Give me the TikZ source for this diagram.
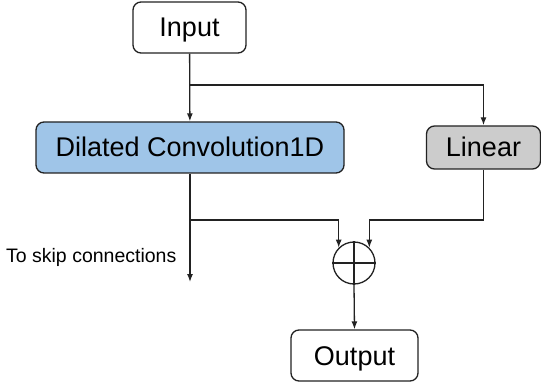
\documentclass[tikz,border=0pt]{standalone}
\usepackage{fontspec}
\setmainfont{Liberation Sans}
\usetikzlibrary{positioning,arrows.meta}
\definecolor{convblue}{HTML}{9FC5E8}
\definecolor{lingray}{HTML}{CCCCCC}
\definecolor{linecol}{HTML}{222222}
\begin{document}
\begin{tikzpicture}[x=1pt,y=-1pt,
  line width=1.3pt,draw=linecol,
  every node/.style={inner sep=0pt,font=\fontsize{27}{31}\selectfont},
  blk/.style={draw=linecol,rounded corners=8pt,minimum height=51pt,text height=19pt,text depth=0pt},
  sumnode/.style={draw=linecol,circle,minimum size=42pt},
  >={Latex[length=8pt,width=6pt]}
]
\useasboundingbox (0,0) rectangle (541,385);
\node[blk,minimum width=113pt] (inp) at (189.5,27.5) {Input};
\node[blk,fill=convblue,minimum width=308pt] (dil) at (190,147.5) {Dilated Convolution1D};
\node[blk,fill=lingray,minimum width=114pt,minimum height=43pt] (lin) at (483.5,147.5) {Linear};
\node[sumnode] (sum) at (354,263) {};
\node[blk,minimum width=127pt] (out) at (354.5,355.5) {Output};
\node[anchor=base east,font=\fontsize{19.5}{22}\selectfont] (skiptxt) at (177,262) {To skip connections};
\coordinate (br) at (190,85);
\coordinate (j1) at (190,220);
\coordinate (j2) at (483.5,220);
\coordinate (skip) at (190,282);
\draw[->] (inp) -- (dil);
\draw[->] (br) -| (lin.north);
\draw[->] (dil.south) -- (skip);
\draw[->] (j1) -| (sum.north west);
\draw (lin.south) -- (j2);
\draw[->] (j2) -| (sum.north east);
\draw (sum.north) -- (sum.south);
\draw (sum.west) -- (sum.east);
\draw[->] (sum.south) -- (out.north);
\end{tikzpicture}
\end{document}
